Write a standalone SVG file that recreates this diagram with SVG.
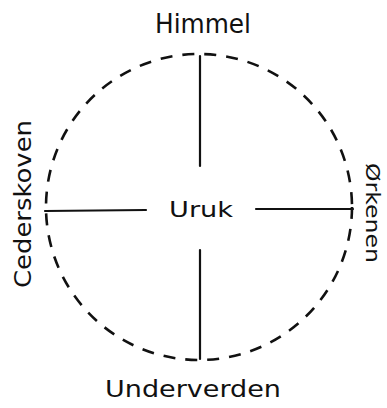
<svg xmlns="http://www.w3.org/2000/svg" width="387" height="408" viewBox="0 0 387 408">
<style>
.lbl{font-family:"DejaVu Sans","Liberation Sans",sans-serif;fill:#111;}
.ln{stroke:#111;stroke-width:2.2;fill:none;stroke-linecap:round;}
.dash{stroke:#111;stroke-width:2.6;fill:none;stroke-dasharray:12 10;}
</style>
<rect width="387" height="408" fill="#fff"/>
<g id="connectors">
<circle class="dash" cx="199" cy="207" r="153"/>
<line class="ln" x1="200" y1="56" x2="200" y2="166"/>
<line class="ln" x1="200" y1="250" x2="200" y2="359"/>
<line class="ln" x1="45" y1="211" x2="146" y2="210"/>
<line class="ln" x1="256" y1="209" x2="353" y2="209"/>
</g>
<g id="uruk"><text class="lbl" x="201" y="217" font-size="21" text-anchor="middle" textLength="64" lengthAdjust="spacingAndGlyphs">Uruk</text></g>
<g id="himmel"><text class="lbl" x="203" y="33" font-size="26" text-anchor="middle" textLength="96" lengthAdjust="spacingAndGlyphs">Himmel</text></g>
<g id="underverden"><text class="lbl" x="193" y="397" font-size="23" text-anchor="middle" textLength="176" lengthAdjust="spacingAndGlyphs">Underverden</text></g>
<g id="cederskoven"><text class="lbl" transform="translate(31,204) rotate(-90)" font-size="23" text-anchor="middle" textLength="168" lengthAdjust="spacingAndGlyphs">Cederskoven</text></g>
<g id="east"><text class="lbl" transform="translate(366,213) rotate(90)" font-size="19" text-anchor="middle" textLength="100" lengthAdjust="spacingAndGlyphs">Ørkenen</text></g>
</svg>
